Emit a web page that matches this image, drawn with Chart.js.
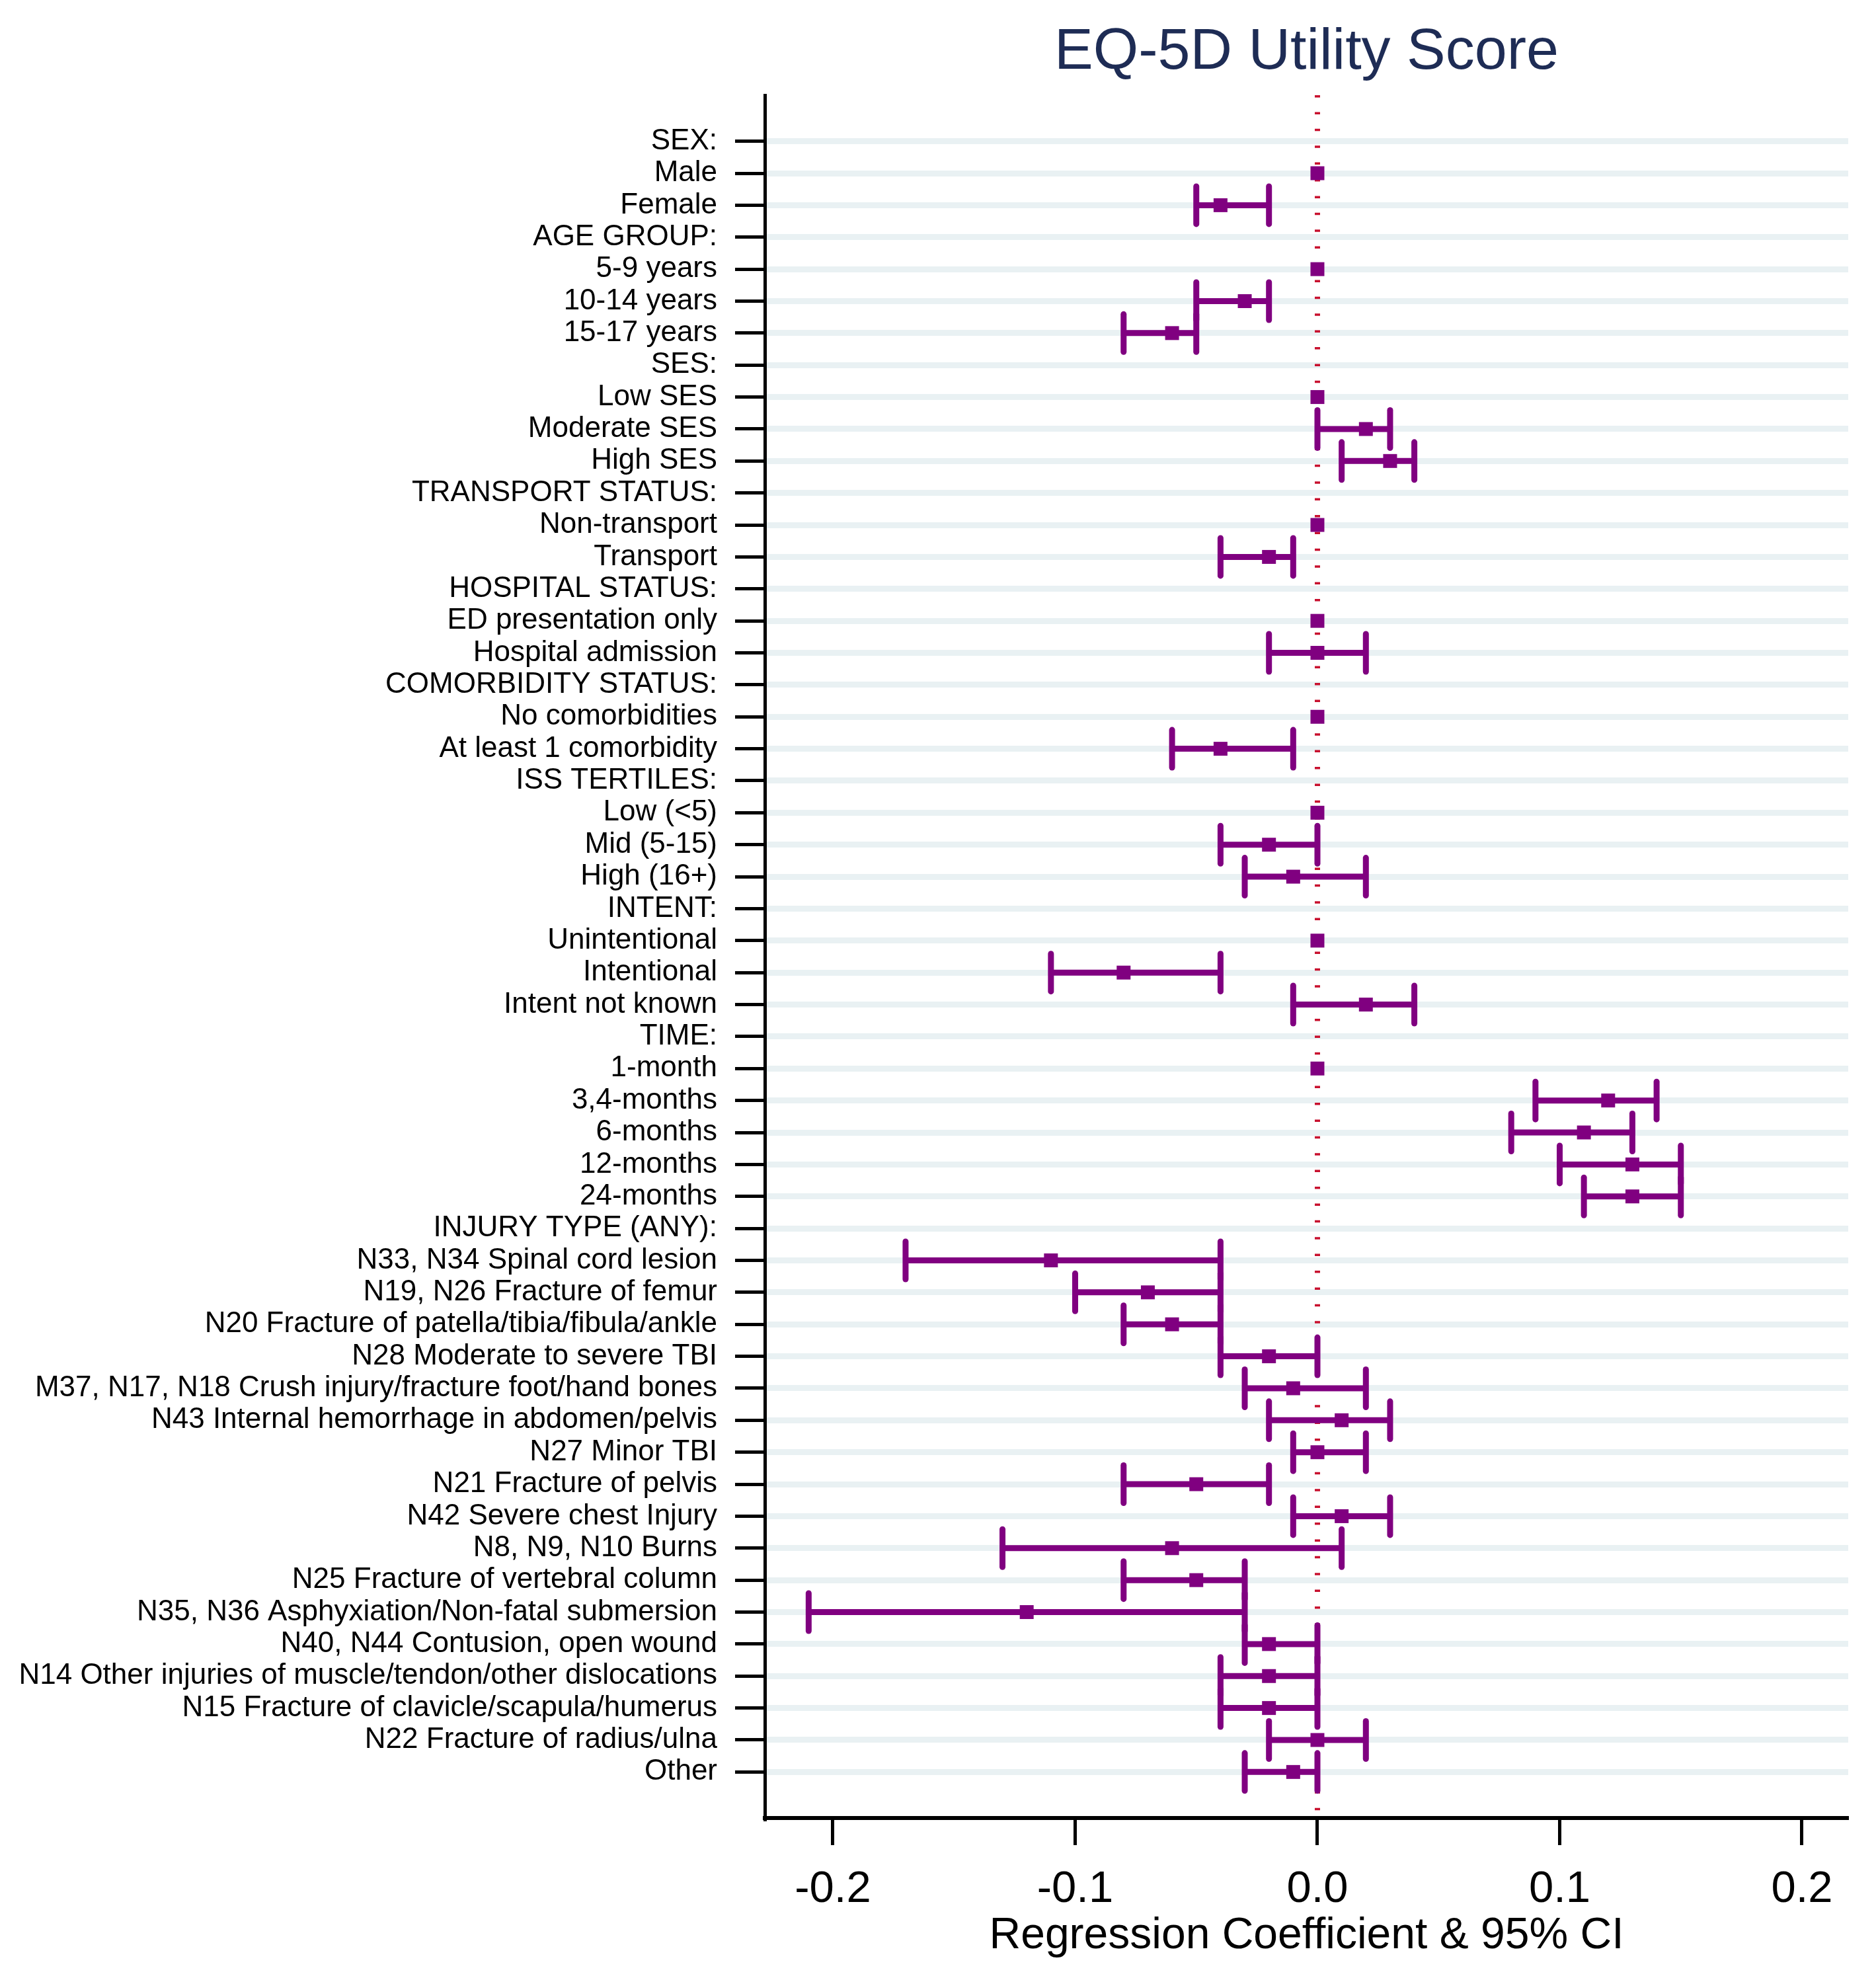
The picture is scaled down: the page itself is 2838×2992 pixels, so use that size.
<!DOCTYPE html>
<html>
<head>
<meta charset="utf-8">
<title>EQ-5D Utility Score</title>
<script src="https://cdn.jsdelivr.net/npm/chart.js@4.4.1/dist/chart.umd.min.js"></script>
<style>
  html, body { margin: 0; padding: 0; background: #fff; }
  canvas { display: block; }
</style>
</head>
<body>
<canvas id="forest" width="2838" height="2992"></canvas>
<script>
// rows, top to bottom
const rowLabels = [
  'SEX:', 'Male', 'Female',
  'AGE GROUP:', '5-9 years', '10-14 years', '15-17 years',
  'SES:', 'Low SES', 'Moderate SES', 'High SES',
  'TRANSPORT STATUS:', 'Non-transport', 'Transport',
  'HOSPITAL STATUS:', 'ED presentation only', 'Hospital admission',
  'COMORBIDITY STATUS:', 'No comorbidities', 'At least 1 comorbidity',
  'ISS TERTILES:', 'Low (<5)', 'Mid (5-15)', 'High (16+)',
  'INTENT:', 'Unintentional', 'Intentional', 'Intent not known',
  'TIME:', '1-month', '3,4-months', '6-months', '12-months', '24-months',
  'INJURY TYPE (ANY):',
  'N33, N34 Spinal cord lesion',
  'N19, N26 Fracture of femur',
  'N20 Fracture of patella/tibia/fibula/ankle',
  'N28 Moderate to severe TBI',
  'M37, N17, N18 Crush injury/fracture foot/hand bones',
  'N43 Internal hemorrhage in abdomen/pelvis',
  'N27 Minor TBI',
  'N21 Fracture of pelvis',
  'N42 Severe chest Injury',
  'N8, N9, N10 Burns',
  'N25 Fracture of vertebral column',
  'N35, N36 Asphyxiation/Non-fatal submersion',
  'N40, N44 Contusion, open wound',
  'N14 Other injuries of muscle/tendon/other dislocations',
  'N15 Fracture of clavicle/scapula/humerus',
  'N22 Fracture of radius/ulna',
  'Other'
];

// coefficient (null = header row)
const coef = [
  null, 0, -0.04,
  null, 0, -0.03, -0.06,
  null, 0, 0.02, 0.03,
  null, 0, -0.02,
  null, 0, 0.0,
  null, 0, -0.04,
  null, 0, -0.02, -0.01,
  null, 0, -0.08, 0.02,
  null, 0, 0.12, 0.11, 0.13, 0.13,
  null,
  -0.11, -0.07, -0.06, -0.02, -0.01, 0.01, 0.0, -0.05, 0.01,
  -0.06, -0.05, -0.12, -0.02, -0.02, -0.02, 0.0, -0.01
];

// 95% CI lower bound (null = none drawn)
const ciLow = [
  null, null, -0.05,
  null, null, -0.05, -0.08,
  null, null, 0.0, 0.01,
  null, null, -0.04,
  null, null, -0.02,
  null, null, -0.06,
  null, null, -0.04, -0.03,
  null, null, -0.11, -0.01,
  null, null, 0.09, 0.08, 0.10, 0.11,
  null,
  -0.17, -0.10, -0.08, -0.04, -0.03, -0.02, -0.01, -0.08, -0.01,
  -0.13, -0.08, -0.21, -0.03, -0.04, -0.04, -0.02, -0.03
];

// 95% CI upper bound
const ciHigh = [
  null, null, -0.02,
  null, null, -0.02, -0.05,
  null, null, 0.03, 0.04,
  null, null, -0.01,
  null, null, 0.02,
  null, null, -0.01,
  null, null, 0.0, 0.02,
  null, null, -0.04, 0.04,
  null, null, 0.14, 0.13, 0.15, 0.15,
  null,
  -0.04, -0.04, -0.04, 0.0, 0.02, 0.03, 0.02, -0.02, 0.03,
  0.01, -0.03, -0.03, 0.0, 0.0, 0.0, 0.02, 0.0
];

const xTicks = [-0.2, -0.1, 0.0, 0.1, 0.2];

const PURPLE = '#800080';
const FONT = "'Liberation Sans', Arial, Helvetica, sans-serif";
const yMin = -1.44, yMax = rowLabels.length - 1 + 1.44;

// build datasets
const points = [];
const ciSegs = [];
const caps = [];
rowLabels.forEach((lab, i) => {
  if (coef[i] !== null) points.push({ x: coef[i], y: i });
  if (ciLow[i] !== null) {
    ciSegs.push({ x: ciLow[i], y: i }, { x: ciHigh[i], y: i }, { x: 0, y: null });
    caps.push({ x: ciLow[i], y: i }, { x: ciHigh[i], y: i });
  }
});

const roundCaps = {
  id: 'roundCaps',
  beforeDatasetDraw(chart, args) {
    if (args.index === 2) chart.ctx.lineCap = 'round';
  },
  afterDatasetDraw(chart, args) {
    if (args.index === 2) chart.ctx.lineCap = 'butt';
  }
};

const ctx = document.getElementById('forest').getContext('2d');

new Chart(ctx, {
  type: 'scatter',
  data: {
    datasets: [
      {
        // reference line at zero
        type: 'line',
        data: [{ x: 0, y: yMin }, { x: 0, y: yMax }],
        borderColor: '#c8102e',
        borderWidth: 8,
        borderDash: [3.5, 21.9],
        pointRadius: 0,
        order: 4
      },
      {
        type: 'line',
        data: ciSegs,
        borderColor: PURPLE,
        borderWidth: 9,
        spanGaps: false,
        pointRadius: 0,
        tension: 0,
        order: 3
      },
      {
        data: caps,
        pointStyle: 'line',
        pointRotation: 90,
        pointRadius: 28.5,
        pointBorderWidth: 9,
        pointBorderColor: PURPLE,
        order: 2
      },
      {
        data: points,
        pointStyle: 'rect',
        pointRadius: 14.85,
        pointBackgroundColor: PURPLE,
        pointBorderWidth: 0,
        order: 1
      }
    ]
  },
  options: {
    responsive: false,
    devicePixelRatio: 1,
    animation: false,
    events: [],
    layout: { padding: { left: 0, right: 42, top: 0, bottom: 0 } },
    plugins: {
      legend: { display: false },
      tooltip: { enabled: false },
      title: {
        display: true,
        text: 'EQ-5D Utility Score',
        color: '#1e2c55',
        fullSize: false,
        font: { family: FONT, size: 88, weight: 'normal', lineHeight: 1.2 },
        padding: { top: 27, bottom: 11.4 }
      }
    },
    scales: {
      x: {
        type: 'linear',
        min: -0.2281,
        max: 0.2191,
        afterBuildTicks: (s) => { s.ticks = xTicks.map(v => ({ value: v })); },
        afterFit: (s) => { s.height = 242; },
        ticks: {
          color: '#000',
          padding: 34,
          font: { family: FONT, size: 67, lineHeight: 1 },
          callback: (v) => Number(v).toFixed(1)
        },
        grid: {
          drawOnChartArea: false,
          drawTicks: true,
          tickLength: 41,
          tickWidth: 5,
          tickColor: '#000'
        },
        border: { display: true, color: '#000', width: 6 },
        title: {
          display: true,
          text: 'Regression Coefficient & 95% CI',
          color: '#000',
          font: { family: FONT, size: 66, lineHeight: 1.2 },
          padding: { top: 0, bottom: 24 }
        }
      },
      y: {
        type: 'linear',
        reverse: true,
        min: yMin,
        max: yMax,
        afterBuildTicks: (s) => { s.ticks = rowLabels.map((_, i) => ({ value: i })); },
        afterFit: (s) => { s.width = 1157; },
        ticks: {
          autoSkip: false,
          color: '#000',
          padding: 27,
          font: { family: FONT, size: 44 },
          callback: (v) => rowLabels[v]
        },
        grid: {
          color: '#e9f1f3',
          lineWidth: 9,
          drawTicks: true,
          tickLength: 45,
          tickWidth: 5,
          tickColor: '#000'
        },
        border: { display: true, color: '#000', width: 5 }
      }
    }
  },
  plugins: [roundCaps]
});
</script>
</body>
</html>
